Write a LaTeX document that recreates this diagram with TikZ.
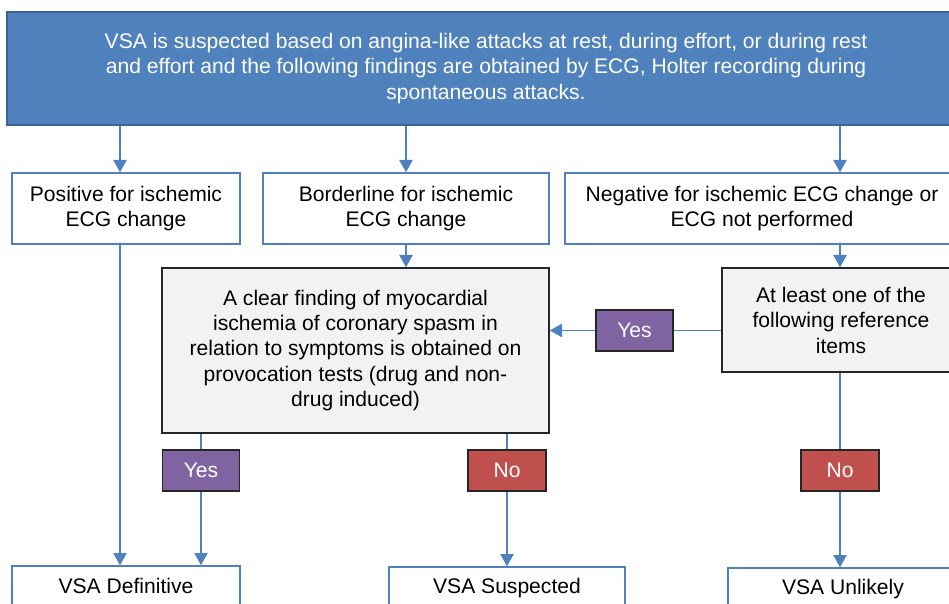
\documentclass[tikz,border=0pt]{standalone}
\usepackage{fontspec}
\setmainfont{Liberation Sans}
\usetikzlibrary{arrows.meta}

\definecolor{hdblue}{HTML}{4F81BD}
\definecolor{hdedge}{HTML}{3A6494}
\definecolor{lightgray}{HTML}{F2F2F2}
\definecolor{yespurple}{HTML}{8064A2}
\definecolor{nored}{HTML}{C0504D}

\begin{document}
\begin{tikzpicture}[x=0.02cm, y=-0.02cm,
    every node/.style={font=\fontsize{12}{14.7}\selectfont, align=center, inner sep=2pt},
    headbox/.style={draw=hdedge, fill=hdblue, text=white, line width=0.8pt},
    ecgbox/.style={draw=hdblue, fill=white, line width=0.8pt},
    testbox/.style={draw=black!85, fill=lightgray, line width=0.8pt},
    yesbox/.style={draw=black!85, fill=yespurple, text=white, line width=0.8pt,
        minimum width=77*0.02cm, minimum height=41*0.02cm},
    nobox/.style={draw=black!85, fill=nored, text=white, line width=0.8pt,
        minimum width=78*0.02cm, minimum height=41*0.02cm},
    link/.style={draw=hdblue, line width=1.1pt},
    arr/.style={link, -{Triangle[length=7pt,width=7.5pt]}}]
    \useasboundingbox (0,0) rectangle (949,604);
    \clip (0,0) rectangle (949,604);

    % header
    \node[headbox, minimum width=958*0.02cm, minimum height=113*0.02cm] (head) at (486,68.5)
        {VSA is suspected based on angina-like attacks at rest, during effort, or during rest\\
         and effort and the following findings are obtained by ECG, Holter recording during\\
         spontaneous attacks.};

    % ECG findings
    \node[ecgbox, minimum width=228*0.02cm, minimum height=71*0.02cm] (pos) at (126,208.5)
        {Positive for ischemic\\ECG change};
    \node[ecgbox, minimum width=286*0.02cm, minimum height=71*0.02cm] (bord) at (406,208.5)
        {Borderline for ischemic\\ECG change};
    \node[ecgbox, minimum width=394*0.02cm, minimum height=71*0.02cm] (neg) at (762,208.5)
        {Negative for ischemic ECG change or\\ECG not performed};

    % provocation test and reference items
    \node[testbox, minimum width=387*0.02cm, minimum height=165*0.02cm,
          font=\fontsize{12}{14.5}\selectfont] (prov) at (355.5,350.5)
        {A clear finding of myocardial\\ischemia of coronary spasm in\\relation to symptoms is obtained on\\
         provocation tests (drug and non-\\drug induced)};
    \node[testbox, minimum width=238*0.02cm, minimum height=104*0.02cm,
          font=\fontsize{12}{14.5}\selectfont] (refitems) at (841,320)
        {At least one of the\\following reference\\items};

    % answers
    \node[yesbox] (yesref) at (634.5,330.5) {Yes};
    \node[yesbox] (yesprov) at (201,470.5) {Yes};
    \node[nobox] (noprov) at (507,470.5) {No};
    \node[nobox] (noref) at (840,470.5) {No};

    % outcomes
    \node[ecgbox, minimum width=228*0.02cm, minimum height=40*0.02cm] (definitive) at (126,586)
        {VSA Definitive};
    \node[ecgbox, minimum width=236*0.02cm, minimum height=42*0.02cm] (suspected) at (507,588)
        {VSA Suspected};
    \node[ecgbox, minimum width=230*0.02cm, minimum height=42*0.02cm] (unlikely) at (843,589)
        {VSA Unlikely};

    % connectors
    \coordinate (posline) at (120,0);
    \draw[arr] (head.south -| posline) -- (pos.north -| posline);
    \draw[arr] (head.south -| bord) -- (bord.north);
    \draw[arr] (head.south -| noref) -- (neg.north -| noref);
    \draw[arr] (pos.south -| posline) -- (definitive.north -| posline);
    \draw[arr] (bord.south) -- (prov.north -| bord.south);
    \draw[arr] (neg.south -| noref) -- (refitems.north -| noref);
    \draw[link] (refitems.west |- yesref) -- (yesref.east);
    \draw[arr] (yesref.west) -- (prov.east |- yesref);
    \draw[link] (prov.south -| yesprov) -- (yesprov.north);
    \draw[arr] (yesprov.south) -- (definitive.north -| yesprov);
    \draw[link] (prov.south -| noprov) -- (noprov.north);
    \draw[arr] (noprov.south) -- (suspected.north -| noprov);
    \draw[link] (refitems.south -| noref) -- (noref.north);
    \draw[arr] (noref.south) -- (unlikely.north -| noref);
\end{tikzpicture}
\end{document}
